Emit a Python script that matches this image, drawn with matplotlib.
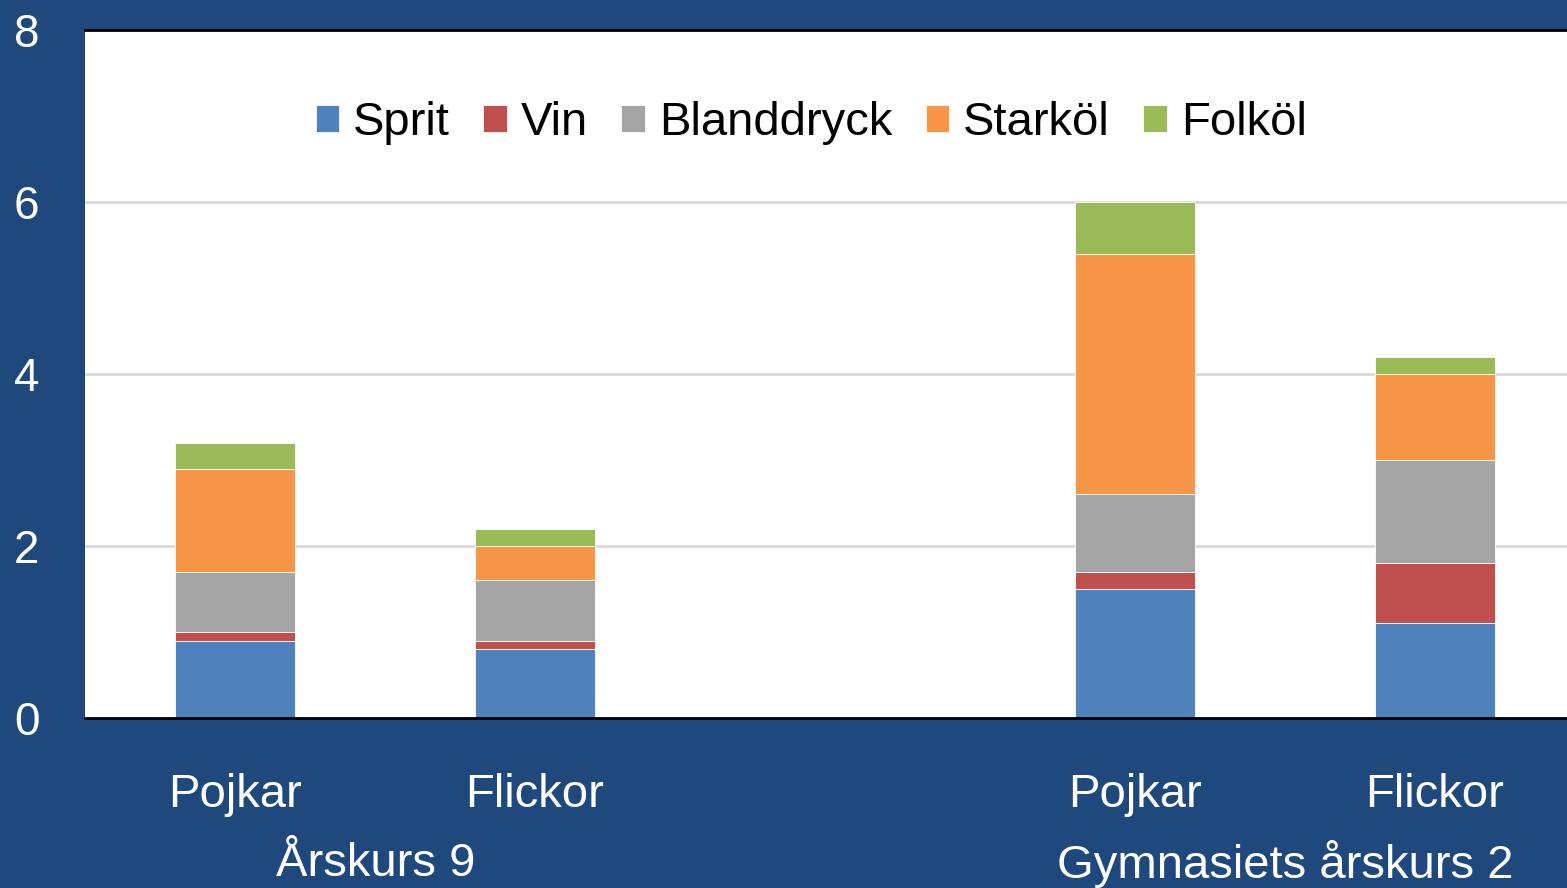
import matplotlib
matplotlib.use('Agg')
import matplotlib.pyplot as plt
import numpy as np

plt.rcParams['font.family'] = ['Liberation Sans', 'DejaVu Sans']

# data
categories = ['Pojkar', 'Flickor', 'Pojkar', 'Flickor']
groups = ['Årskurs 9', 'Gymnasiets årskurs 2']
series = ['Sprit', 'Vin', 'Blanddryck', 'Starköl', 'Folköl']
sprit = [0.9, 0.8, 1.5, 1.1]
vin = [0.1, 0.1, 0.2, 0.7]
bland = [0.7, 0.7, 0.9, 1.2]
stark = [1.2, 0.4, 2.8, 1.0]
folkol = [0.3, 0.2, 0.6, 0.2]
yticks = [0, 2, 4, 6, 8]

colors = ['#4F81BD', '#C0504D', '#A5A5A5', '#F79646', '#9BBB59']
bg = '#1F497D'

fig = plt.figure(figsize=(15.67, 8.88), dpi=100, facecolor=bg)
ax = fig.add_axes([85/1567, 1 - 718/888, 1 - 85/1567, 688/888])
ax.set_facecolor('white')

x = np.array([0.5, 1.5, 3.5, 4.5])
bottom = np.zeros(4)
for name, vals, c in zip(series, [sprit, vin, bland, stark, folkol], colors):
    ax.bar(x, vals, width=0.4, bottom=bottom, color=c, label=name,
           edgecolor='white', linewidth=0.6, zorder=2)
    bottom += np.array(vals)

ax.set_xlim(0, 1482/300)
ax.set_ylim(0, 8)
ax.set_yticks(yticks)
ax.set_yticklabels([str(t) for t in yticks], color='white', fontsize=33)
for t in ax.get_yticklabels():
    t.set_horizontalalignment('center')
ax.tick_params(axis='y', length=0, pad=42)
ax.set_xticks([])

for y in yticks[1:-1]:
    ax.axhline(y, color='#D9D9D9', lw=2, zorder=1)

for s in ['left', 'right']:
    ax.spines[s].set_visible(False)
ax.spines['bottom'].set_color('black')
ax.spines['bottom'].set_linewidth(2)
ax.spines['top'].set_color('black')
ax.spines['top'].set_linewidth(2)

trans = ax.get_xaxis_transform()
for xi, cat in zip(x, categories):
    ax.text(xi, -77/688, cat, transform=trans, ha='center', va='center',
            color='white', fontsize=34)
for gx, g in zip([0.97, 4.0], groups):
    ax.text(gx, -146/688, g, transform=trans, ha='center', va='center',
            color='white', fontsize=34)

ax.legend(loc='center', bbox_to_anchor=(0.49, 0.865), ncol=5, frameon=False,
          fontsize=34, handlelength=0.5, handleheight=0.5, handletextpad=0.3,
          columnspacing=0.7)

fig.savefig('out.png', dpi=100, facecolor=bg)
